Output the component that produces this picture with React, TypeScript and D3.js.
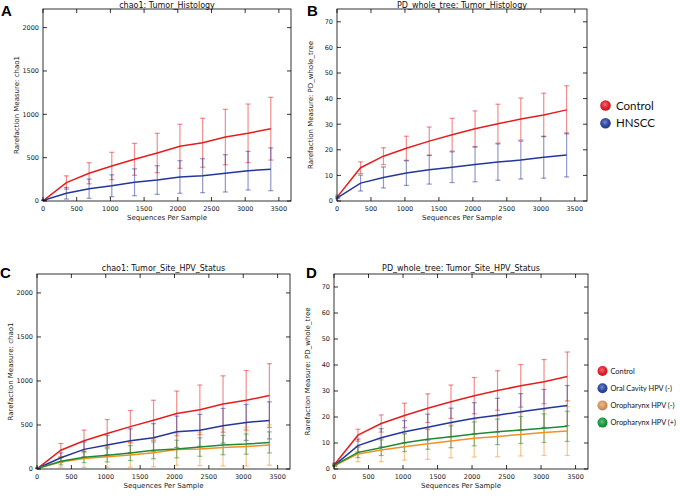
import React from "react";
import * as d3 from "d3";

// ---------- data ----------
const seqDepths = [10, 347, 684, 1021, 1358, 1695, 2032, 2369, 2706, 3043, 3380];
const xTicks = [0, 500, 1000, 1500, 2000, 2500, 3000, 3500];
const chaoTicks = [0, 500, 1000, 1500, 2000];
const pdTicks = [0, 10, 20, 30, 40, 50, 60, 70];

// chao1
const controlChao = [8, 213, 320, 404, 481, 554, 631, 672, 738, 781, 834];
const controlChaoSd = [2, 77, 122, 158, 184, 227, 254, 282, 320, 338, 362];
const hnsccChao = [8, 89, 142, 176, 216, 242, 277, 292, 319, 350, 366];
const hnsccChaoSd = [2, 66, 111, 126, 155, 165, 188, 196, 215, 223, 247];
const oralChao = [8, 128, 223, 272, 321, 355, 423, 439, 491, 529, 552];
const oralChaoSd = [2, 55, 85, 110, 135, 160, 178, 181, 197, 204, 211];
const oroNegChao = [7, 80, 118, 140, 160, 185, 222, 228, 245, 255, 272];
const oroNegChaoSd = [2, 60, 100, 120, 140, 160, 180, 190, 210, 220, 230];
const oroPosChao = [7, 87, 133, 155, 181, 212, 227, 249, 272, 283, 302];
const oroPosChaoSd = [2, 40, 60, 75, 85, 95, 100, 105, 110, 115, 120];

// PD_whole_tree
const controlPD = [1.8, 13.0, 17.5, 20.6, 23.4, 25.9, 28.2, 30.2, 32.0, 33.6, 35.6];
const controlPDSd = [0.5, 2.3, 3.3, 4.7, 5.5, 6.4, 7.0, 7.6, 8.2, 8.5, 9.4];
const hnsccPD = [1.3, 7.0, 9.2, 10.9, 12.2, 13.2, 14.3, 15.2, 16.0, 17.1, 18.0];
const hnsccPDSd = [0.4, 3.1, 4.1, 4.8, 5.6, 6.0, 6.8, 7.1, 7.4, 8.2, 8.6];
const oralPD = [1.5, 9.0, 12.0, 14.3, 16.1, 17.9, 19.5, 20.7, 22.0, 23.3, 24.4];
const oralPDSd = [0.4, 2.5, 3.5, 4.3, 5.0, 5.5, 6.0, 6.5, 7.0, 7.3, 7.7];
const oroNegPD = [1.3, 5.8, 7.3, 8.6, 9.7, 10.8, 11.8, 12.5, 13.3, 14.0, 14.6];
const oroNegPDSd = [0.3, 3.0, 4.5, 5.2, 6.0, 6.5, 7.2, 7.8, 8.3, 8.8, 9.4];
const oroPosPD = [1.5, 6.4, 8.2, 10.1, 11.4, 12.4, 13.5, 14.3, 15.0, 15.7, 16.4];
const oroPosPDSd = [0.3, 2.0, 3.0, 3.4, 3.8, 4.2, 4.6, 4.9, 5.2, 5.5, 5.8];

const legendTop = ["Control", "HNSCC"];
const legendBottom = ["Control", "Oral Cavity HPV (-)", "Oropharynx HPV (-)", "Oropharynx HPV (+)"];

// ---------- styles ----------
const RED = "#e41e1e";
const BLUE = "#25369a";
const ORANGE = "#f39020";
const GREEN = "#1f8a34";
const legendColors: Record<string, string> = {
  Control: "#e3202a",
  HNSCC: "#2c48a0",
  "Oral Cavity HPV (-)": "#2c48a0",
  "Oropharynx HPV (-)": "#d8965e",
  "Oropharynx HPV (+)": "#1a9a40",
};
const FONT = "'DejaVu Sans', sans-serif";

type Series = { mean: number[]; sd: number[]; color: string };

type PanelProps = {
  x0: number; x1: number; y0: number; y1: number;
  yMax: number; yTicks: number[];
  series: Series[];
  title: string; ylabel: string;
  letter: string; letterX: number; letterY: number;
  titleY: number;
};

const XMAX = 3680;

function Panel(p: PanelProps) {
  const x = d3.scaleLinear().domain([0, XMAX]).range([p.x0, p.x1]);
  const y = d3.scaleLinear().domain([0, p.yMax]).range([p.y1, p.y0]);
  const tl = 4;
  const cap = 2.5;
  const cx = (p.x0 + p.x1) / 2;
  const cy = (p.y0 + p.y1) / 2;
  return (
    <g>
      {/* error bars */}
      {p.series.map((s, si) =>
        seqDepths.map((d, i) => {
          const xx = x(d);
          const top = y(s.mean[i] + s.sd[i]);
          const bot = y(Math.max(0, s.mean[i] - s.sd[i]));
          return (
            <g key={`e${si}-${i}`} stroke={s.color} strokeOpacity={0.5} strokeWidth={1.2}>
              <line x1={xx} x2={xx} y1={top} y2={bot} />
              <line x1={xx - cap} x2={xx + cap} y1={top} y2={top} />
              <line x1={xx - cap} x2={xx + cap} y1={bot} y2={bot} />
            </g>
          );
        })
      )}
      {/* mean lines */}
      {p.series.map((s, si) => {
        const line = d3
          .line<number>()
          .x((_, i) => x(seqDepths[i]))
          .y((v) => y(v));
        return (
          <path key={`l${si}`} d={line(s.mean) || ""} fill="none" stroke={s.color} strokeWidth={1.5} />
        );
      })}
      {/* frame */}
      <rect x={p.x0} y={p.y0} width={p.x1 - p.x0} height={p.y1 - p.y0} fill="none" stroke="#000" strokeWidth={0.8} />
      {/* x ticks */}
      {xTicks.map((t) => (
        <g key={`xt${t}`}>
          <line x1={x(t)} x2={x(t)} y1={p.y1} y2={p.y1 - tl} stroke="#000" strokeWidth={0.8} />
          <line x1={x(t)} x2={x(t)} y1={p.y0} y2={p.y0 + tl} stroke="#000" strokeWidth={0.8} />
          <text x={x(t)} y={p.y1 + 9.5} fontSize={6.5} textAnchor="middle" fontFamily={FONT} fill="#222">
            {t}
          </text>
        </g>
      ))}
      {/* y ticks */}
      {p.yTicks.map((t) => (
        <g key={`yt${t}`}>
          <line x1={p.x0} x2={p.x0 + tl} y1={y(t)} y2={y(t)} stroke="#000" strokeWidth={0.8} />
          <line x1={p.x1} x2={p.x1 - tl} y1={y(t)} y2={y(t)} stroke="#000" strokeWidth={0.8} />
          <text x={p.x0 - 4} y={y(t) + 2.3} fontSize={6.5} textAnchor="end" fontFamily={FONT} fill="#222">
            {t}
          </text>
        </g>
      ))}
      {/* labels */}
      <text x={cx} y={p.y1 + 18.5} fontSize={7} textAnchor="middle" fontFamily={FONT} fill="#222">
        Sequences Per Sample
      </text>
      <text
        transform={`translate(${p.x0 - 24},${cy}) rotate(-90)`}
        fontSize={7}
        textAnchor="middle"
        fontFamily={FONT}
        fill="#222"
      >
        {p.ylabel}
      </text>
      <text x={cx} y={p.titleY} fontSize={8} textAnchor="middle" fontFamily={FONT} fill="#111">
        {p.title}
      </text>
      <text x={p.letterX} y={p.letterY} fontSize={15} fontWeight="bold" fontFamily="'Liberation Sans', Arial, sans-serif" fill="#000">
        {p.letter}
      </text>
    </g>
  );
}

function Legend({ items, x, y, step, r, fontSize, textDx }: { items: string[]; x: number; y: number; step: number; r: number; fontSize: number; textDx: number }) {
  return (
    <g>
      {items.map((name, i) => (
        <g key={name}>
          <circle cx={x} cy={y + i * step} r={r} fill={`url(#grad${i}-${items.length})`} />
          <text x={x + textDx} y={y + i * step + fontSize * 0.36} fontSize={fontSize} fontFamily="Lato, 'Open Sans', sans-serif" fill="#111">
            {name}
          </text>
        </g>
      ))}
    </g>
  );
}

export default function App() {
  const seriesA: Series[] = [
    { mean: controlChao, sd: controlChaoSd, color: RED },
    { mean: hnsccChao, sd: hnsccChaoSd, color: BLUE },
  ];
  const seriesB: Series[] = [
    { mean: controlPD, sd: controlPDSd, color: RED },
    { mean: hnsccPD, sd: hnsccPDSd, color: BLUE },
  ];
  const seriesC: Series[] = [
    { mean: controlChao, sd: controlChaoSd, color: RED },
    { mean: oralChao, sd: oralChaoSd, color: BLUE },
    { mean: oroNegChao, sd: oroNegChaoSd, color: ORANGE },
    { mean: oroPosChao, sd: oroPosChaoSd, color: GREEN },
  ];
  const seriesD: Series[] = [
    { mean: controlPD, sd: controlPDSd, color: RED },
    { mean: oralPD, sd: oralPDSd, color: BLUE },
    { mean: oroNegPD, sd: oroNegPDSd, color: ORANGE },
    { mean: oroPosPD, sd: oroPosPDSd, color: GREEN },
  ];
  const gradDefs = [legendTop, legendBottom].flatMap((items) =>
    items.map((name, i) => {
      const c = legendColors[name];
      const light = d3.interpolateRgb(c, "#ffffff")(0.35);
      const dark = d3.interpolateRgb(c, "#000000")(0.15);
      return (
        <radialGradient key={`g${i}-${items.length}`} id={`grad${i}-${items.length}`} cx="45%" cy="40%" r="60%">
          <stop offset="0%" stopColor={light} />
          <stop offset="60%" stopColor={c} />
          <stop offset="100%" stopColor={dark} />
        </radialGradient>
      );
    })
  );
  return (
    <svg width={680} height={504} style={{ position: "absolute", left: 0, top: 0, background: "#fff" }}>
      <defs>{gradDefs}</defs>
      <rect width={680} height={504} fill="#fff" />
      <Panel x0={43} x1={291} y0={9} y1={201} yMax={2215} yTicks={chaoTicks} series={seriesA}
        title="chao1: Tumor_Histology" ylabel="Rarefaction Measure: chao1" letter="A" letterX={1} letterY={16} titleY={7.5} />
      <Panel x0={337} x1={587} y0={9} y1={201} yMax={75} yTicks={pdTicks} series={seriesB}
        title="PD_whole_tree: Tumor_Histology" ylabel="Rarefaction Measure: PD_whole_tree" letter="B" letterX={307} letterY={16} titleY={7.5} />
      <Panel x0={37} x1={290} y0={274} y1={469} yMax={2215} yTicks={chaoTicks} series={seriesC}
        title="chao1: Tumor_Site_HPV_Status" ylabel="Rarefaction Measure: chao1" letter="C" letterX={0} letterY={278} titleY={271} />
      <Panel x0={334} x1={588} y0={274} y1={469} yMax={75} yTicks={pdTicks} series={seriesD}
        title="PD_whole_tree: Tumor_Site_HPV_Status" ylabel="Rarefaction Measure: PD_whole_tree" letter="D" letterX={306} letterY={278} titleY={271} />
      <Legend items={legendTop} x={605.5} y={105.5} step={17.7} r={5.3} fontSize={11.5} textDx={10.5} />
      <Legend items={legendBottom} x={602.5} y={371} step={17.2} r={5} fontSize={7.4} textDx={8} />
    </svg>
  );
}
